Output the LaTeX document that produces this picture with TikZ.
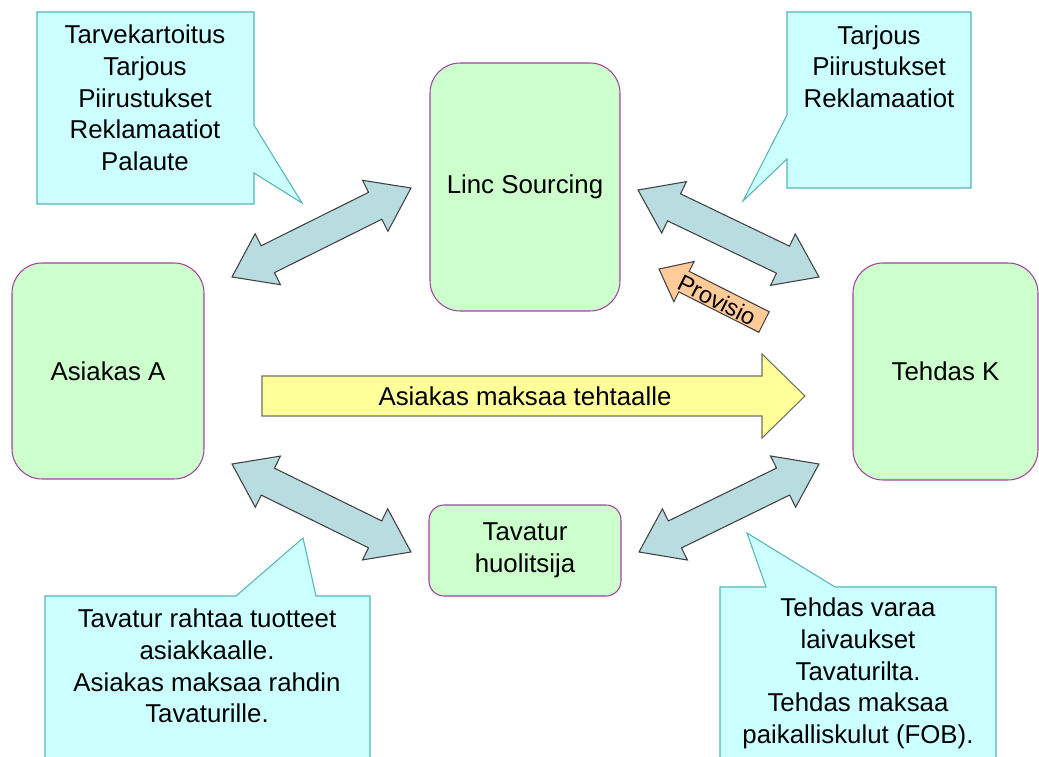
\documentclass[tikz,border=0pt]{standalone}
\usepackage{fontspec}
\setmainfont{Liberation Sans}
\usetikzlibrary{calc}
\definecolor{boxgreen}{HTML}{CCFFCC}
\definecolor{boxline}{HTML}{A040A0}
\definecolor{notefill}{HTML}{CCFFFF}
\definecolor{noteline}{HTML}{55B5B5}
\definecolor{flowfill}{HTML}{B8DCE0}
\definecolor{flowline}{HTML}{404040}
\definecolor{payfill}{HTML}{FFFF99}
\definecolor{payline}{HTML}{707060}
\definecolor{feefill}{HTML}{FFCC99}
\newcommand\dgfont{\fontsize{14.7pt}{18pt}\selectfont}
\newcommand\twoway[2]{%
  \draw[flow] (#1)
    -- ($(#1)!0.8cm!(#2)!0.57cm!90:(#2)$)
    -- ($(#1)!0.8cm!(#2)!0.3cm!90:(#2)$)
    -- ($(#2)!0.8cm!(#1)!0.3cm!-90:(#1)$)
    -- ($(#2)!0.8cm!(#1)!0.57cm!-90:(#1)$)
    -- (#2)
    -- ($(#2)!0.8cm!(#1)!0.57cm!90:(#1)$)
    -- ($(#2)!0.8cm!(#1)!0.3cm!90:(#1)$)
    -- ($(#1)!0.8cm!(#2)!0.3cm!-90:(#2)$)
    -- ($(#1)!0.8cm!(#2)!0.57cm!-90:(#2)$)
    -- cycle;}
\newcommand\oneway[6]{%
  \draw[#1] ($(#2)!#6!90:(#3)$)
    -- ($(#3)!#4!(#2)!#6!-90:(#2)$)
    -- ($(#3)!#4!(#2)!#5!-90:(#2)$)
    -- (#3)
    -- ($(#3)!#4!(#2)!#5!90:(#2)$)
    -- ($(#3)!#4!(#2)!#6!90:(#2)$)
    -- ($(#2)!#6!-90:(#3)$)
    -- cycle;}
\begin{document}
\begin{tikzpicture}[x=0.02cm, y=-0.02cm, line width=0.6pt,
    party/.style={draw=boxline, fill=boxgreen, rounded corners=0.6cm, font=\dgfont},
    note/.style={draw=noteline, fill=notefill},
    notetext/.style={align=center, inner sep=0, font=\dgfont},
    flow/.style={draw=flowline, fill=flowfill},
    pay/.style={draw=payline, fill=payfill},
    fee/.style={draw=flowline, fill=feefill}]
  \useasboundingbox (0,0) rectangle (1039,757);
  \clip (0,0) rectangle (1039,757);

  \node[party, minimum width=3.84cm, minimum height=4.32cm] (asiakas) at (108,371) {Asiakas A};
  \node[party, minimum width=3.8cm, minimum height=4.96cm] (linc) at (525,187) {\raisebox{-3pt}{Linc Sourcing}};
  \node[party, minimum width=3.7cm, minimum height=4.34cm] (tehdas) at (945.5,371.5) {Tehdas K};
  \node[party, rounded corners=0.3cm, minimum width=3.84cm, minimum height=1.82cm,
        align=center] (tavatur) at (525,550.5) {Tavatur\\huolitsija};

  \draw[note] (37,12) -- (254,12) -- (254,125) -- (302,203) -- (254,173)
    -- (254,204) -- (37,204) -- cycle;
  \node[notetext] (needs) at (145,98)
    {Tarvekartoitus\\Tarjous\\Piirustukset\\Reklamaatiot\\Palaute};
  \draw[note] (787,12) -- (971,12) -- (971,188) -- (787,188) -- (787,159)
    -- (743,201) -- (787,115) -- cycle;
  \node[notetext] (offer) at (879,66.5) {Tarjous\\Piirustukset\\Reklamaatiot};
  \draw[note] (45,596) -- (236,596) -- (303,538) -- (316,596) -- (370,596)
    -- (370,770) -- (45,770) -- cycle;
  \node[notetext] (freight) at (207,666)
    {Tavatur rahtaa tuotteet\\asiakkaalle.\\Asiakas maksaa rahdin\\Tavaturille.};
  \draw[note] (720,587) -- (766,587) -- (747,533) -- (835,587) -- (996,587)
    -- (996,770) -- (720,770) -- cycle;
  \node[notetext] (booking) at (858,673.5)
    {Tehdas varaa\\laivaukset\\Tavaturilta.\\Tehdas maksaa\\paikalliskulut (FOB).};

  \coordinate (a1) at (232,277);
  \coordinate (l1) at (411,188);
  \coordinate (l2) at (638,190);
  \coordinate (k1) at (819,277);
  \coordinate (a2) at (232,464);
  \coordinate (t1) at (411,552);
  \coordinate (t2) at (639,552);
  \coordinate (k2) at (819,464);
  \twoway{a1}{l1}
  \twoway{l2}{k1}
  \twoway{a2}{t1}
  \twoway{t2}{k2}

  \coordinate (payfrom) at (262,396);
  \coordinate (payto) at (805,396);
  \oneway{pay}{payfrom}{payto}{0.86cm}{0.84cm}{0.4cm}
  \node[font=\dgfont] (paytext) at (525,396) {Asiakas maksaa tehtaalle};

  \coordinate (feefrom) at (764,322);
  \coordinate (feeto) at (659,269);
  \oneway{fee}{feefrom}{feeto}{0.56cm}{0.45cm}{0.23cm}
  \node[font=\fontsize{13.4pt}{16pt}\selectfont, rotate=-26.8, inner sep=0] (feetext)
    at (717,300) {Provisio};
\end{tikzpicture}
\end{document}
